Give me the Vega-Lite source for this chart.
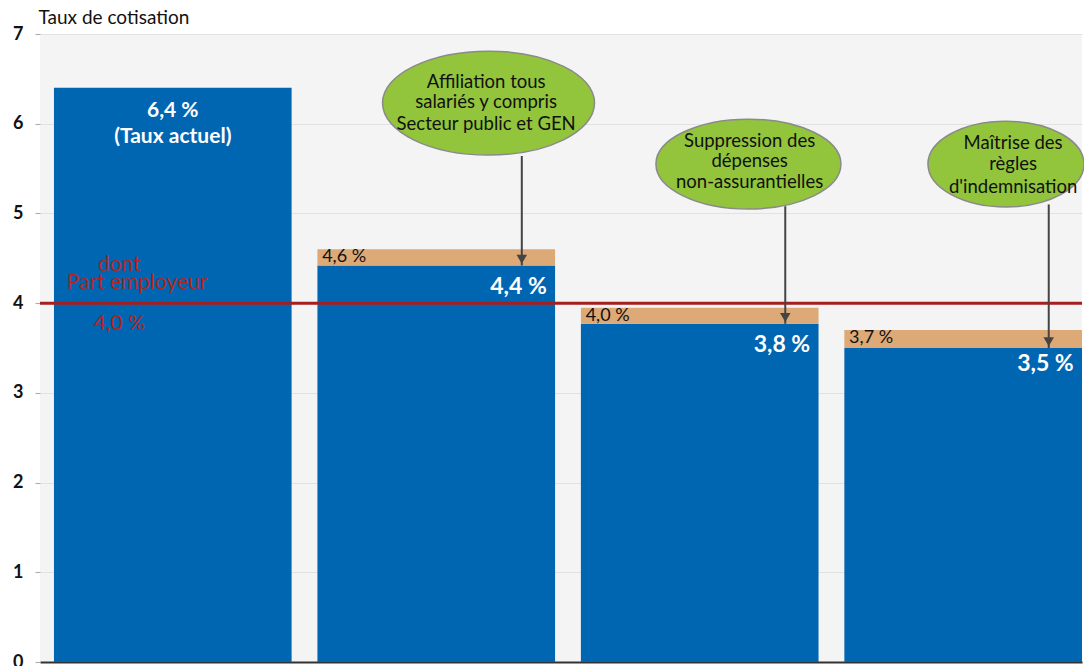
{
  "$schema": "https://vega.github.io/schema/vega-lite/v6.json",
  "width": 1084,
  "height": 666,
  "autosize": {"type": "fit", "contains": "padding"},
  "padding": {"left": 12, "top": 8, "right": 0, "bottom": -5},
  "background": "white",
  "config": {
    "view": {"fill": "#f4f4f4", "stroke": null},
    "font": "Lato"
  },
  "datasets": {
    "bars": [
      {"cat": "Taux actuel", "part": "base", "y0": 0, "y1": 6.4},
      {"cat": "Affiliation", "part": "base", "y0": 0, "y1": 4.42},
      {"cat": "Affiliation", "part": "extra", "y0": 4.42, "y1": 4.6},
      {"cat": "Suppression", "part": "base", "y0": 0, "y1": 3.77},
      {"cat": "Suppression", "part": "extra", "y0": 3.77, "y1": 3.95},
      {"cat": "Maîtrise", "part": "base", "y0": 0, "y1": 3.5},
      {"cat": "Maîtrise", "part": "extra", "y0": 3.5, "y1": 3.7}
    ],
    "ellipses": [
      {"cat": "Affiliation", "y": 6.23},
      {"cat": "Suppression", "y": 5.55},
      {"cat": "Maîtrise", "y": 5.55}
    ],
    "ellipseText": [
      {"cat": "Affiliation", "y": 6.47, "text": "Affiliation tous"},
      {"cat": "Affiliation", "y": 6.24, "text": "salariés y compris"},
      {"cat": "Affiliation", "y": 6.0, "text": "Secteur public et GEN"},
      {"cat": "Suppression", "y": 5.81, "text": "Suppression des"},
      {"cat": "Suppression", "y": 5.58, "text": "dépenses"},
      {"cat": "Suppression", "y": 5.35, "text": "non-assurantielles"},
      {"cat": "Maîtrise", "y": 5.79, "text": "Maîtrise des"},
      {"cat": "Maîtrise", "y": 5.55, "text": "règles"},
      {"cat": "Maîtrise", "y": 5.3, "text": "d'indemnisation"}
    ],
    "arrows": [
      {"cat": "Affiliation", "top": 5.64, "tip": 4.42, "head": 4.49},
      {"cat": "Suppression", "top": 5.08, "tip": 3.77, "head": 3.84},
      {"cat": "Maîtrise", "top": 5.1, "tip": 3.5, "head": 3.57}
    ],
    "whiteCenter": [
      {"cat": "Taux actuel", "y": 6.14, "text": "6,4 %"},
      {"cat": "Taux actuel", "y": 5.85, "text": "(Taux actuel)"}
    ],
    "whiteRight": [
      {"cat": "Affiliation", "y": 4.18, "text": "4,4 %"},
      {"cat": "Suppression", "y": 3.53, "text": "3,8 %"},
      {"cat": "Maîtrise", "y": 3.32, "text": "3,5 %"}
    ],
    "tanLabels": [
      {"cat": "Affiliation", "y": 4.51, "text": "4,6 %"},
      {"cat": "Suppression", "y": 3.86, "text": "4,0 %"},
      {"cat": "Maîtrise", "y": 3.61, "text": "3,7 %"}
    ],
    "redA": [
      {"cat": "Taux actuel", "y": 4.43, "text": "dont"},
      {"cat": "Taux actuel", "y": 3.77, "text": "4,0 %"}
    ],
    "redB": [
      {"cat": "Taux actuel", "y": 4.23, "text": "Part employeur"}
    ],
    "employer": [{"rate": 4.0}]
  },
  "layer": [
    {
      "data": {"name": "bars"},
      "mark": {"type": "bar"},
      "encoding": {
        "x": {
          "field": "cat",
          "type": "nominal",
          "scale": {"type": "band", "domain": ["Taux actuel", "Affiliation", "Suppression", "Maîtrise"], "paddingInner": 0.098, "paddingOuter": 0.0265, "align": 1},
          "axis": {"labels": false, "ticks": false, "title": null, "domainColor": "#333333", "domainWidth": 2, "grid": false}
        },
        "y": {
          "field": "y1",
          "type": "quantitative",
          "scale": {"domain": [0, 7], "nice": false, "zero": true},
          "axis": {
            "values": [0, 1, 2, 3, 4, 5, 6, 7],
            "format": "d",
            "grid": true,
            "gridColor": "#e2e2e2",
            "domain": false,
            "tickColor": "#aaaaaa",
            "tickSize": 5,
            "labelFontSize": 18,
            "labelFontWeight": "bold",
            "labelColor": "#111111",
            "labelPadding": 12,
            "title": "Taux de cotisation",
            "titleAngle": 0,
            "titleAlign": "left",
            "titleBaseline": "middle",
            "titleX": -2,
            "titleY": -17,
            "titleFontSize": 19,
            "titleFontWeight": "normal",
            "titleColor": "#111111"
          }
        },
        "y2": {"field": "y0"},
        "color": {
          "field": "part",
          "type": "nominal",
          "scale": {"domain": ["base", "extra"], "range": ["#0066b2", "#dca977"]},
          "legend": null
        }
      }
    },
    {
      "data": {"name": "employer"},
      "mark": {"type": "rule", "color": "#a61e1e", "strokeWidth": 3},
      "encoding": {"y": {"field": "rate", "type": "quantitative"}}
    },
    {
      "data": {"name": "arrows"},
      "mark": {"type": "rule", "color": "#444444", "strokeWidth": 2},
      "encoding": {
        "x": {"field": "cat", "type": "nominal", "bandPosition": 0.86},
        "y": {"field": "top", "type": "quantitative"},
        "y2": {"field": "tip"}
      }
    },
    {
      "data": {"name": "arrows"},
      "mark": {"type": "point", "shape": "triangle-down", "size": 110, "filled": true, "color": "#444444", "opacity": 1},
      "encoding": {
        "x": {"field": "cat", "type": "nominal", "bandPosition": 0.86},
        "y": {"field": "head", "type": "quantitative"}
      }
    },
    {
      "data": {"name": "ellipses"},
      "transform": [{"filter": "datum.cat == 'Affiliation'"}],
      "mark": {"type": "point", "shape": "M -1 0 A 1 0.49 0 1 0 1 0 A 1 0.49 0 1 0 -1 0 Z", "size": 44944, "filled": true, "fill": "#92c43c", "stroke": "#8a8a8a", "strokeWidth": 1.5, "opacity": 1},
      "encoding": {
        "x": {"field": "cat", "type": "nominal", "bandPosition": 0.72},
        "y": {"field": "y", "type": "quantitative"}
      }
    },
    {
      "data": {"name": "ellipses"},
      "transform": [{"filter": "datum.cat == 'Suppression'"}],
      "mark": {"type": "point", "shape": "M -1 0 A 1 0.486 0 1 0 1 0 A 1 0.486 0 1 0 -1 0 Z", "size": 34225, "filled": true, "fill": "#92c43c", "stroke": "#8a8a8a", "strokeWidth": 1.5, "opacity": 1},
      "encoding": {
        "x": {"field": "cat", "type": "nominal", "bandPosition": 0.705},
        "y": {"field": "y", "type": "quantitative"}
      }
    },
    {
      "data": {"name": "ellipses"},
      "transform": [{"filter": "datum.cat == 'Maîtrise'"}],
      "mark": {"type": "point", "shape": "M -1 0 A 1 0.55 0 1 0 1 0 A 1 0.55 0 1 0 -1 0 Z", "size": 24336, "filled": true, "fill": "#92c43c", "stroke": "#8a8a8a", "strokeWidth": 1.5, "opacity": 1},
      "encoding": {
        "x": {"field": "cat", "type": "nominal", "bandPosition": 0.68},
        "y": {"field": "y", "type": "quantitative"}
      }
    },
    {
      "data": {"name": "ellipseText"},
      "mark": {"type": "text", "fontSize": 18.5, "color": "#111111", "align": "center", "baseline": "middle"},
      "encoding": {
        "x": {"field": "cat", "type": "nominal", "bandPosition": 0.71},
        "y": {"field": "y", "type": "quantitative"},
        "text": {"field": "text"}
      }
    },
    {
      "data": {"name": "whiteCenter"},
      "mark": {"type": "text", "fontSize": 21, "fontWeight": "bold", "color": "white", "align": "center", "baseline": "middle"},
      "encoding": {
        "x": {"field": "cat", "type": "nominal", "bandPosition": 0.5},
        "y": {"field": "y", "type": "quantitative"},
        "text": {"field": "text"}
      }
    },
    {
      "data": {"name": "whiteRight"},
      "mark": {"type": "text", "fontSize": 23, "fontWeight": "bold", "color": "white", "align": "right", "baseline": "middle"},
      "encoding": {
        "x": {"field": "cat", "type": "nominal", "bandPosition": 0.965},
        "y": {"field": "y", "type": "quantitative"},
        "text": {"field": "text"}
      }
    },
    {
      "data": {"name": "tanLabels"},
      "mark": {"type": "text", "fontSize": 18, "color": "#111111", "align": "left", "baseline": "middle"},
      "encoding": {
        "x": {"field": "cat", "type": "nominal", "bandPosition": 0.02},
        "y": {"field": "y", "type": "quantitative"},
        "text": {"field": "text"}
      }
    },
    {
      "data": {"name": "redA"},
      "mark": {"type": "text", "fontSize": 21, "color": "#b3241c", "align": "center", "baseline": "middle"},
      "encoding": {
        "x": {"field": "cat", "type": "nominal", "bandPosition": 0.275},
        "y": {"field": "y", "type": "quantitative"},
        "text": {"field": "text"}
      }
    },
    {
      "data": {"name": "redB"},
      "mark": {"type": "text", "fontSize": 21, "color": "#b3241c", "align": "center", "baseline": "middle"},
      "encoding": {
        "x": {"field": "cat", "type": "nominal", "bandPosition": 0.35},
        "y": {"field": "y", "type": "quantitative"},
        "text": {"field": "text"}
      }
    }
  ]
}
